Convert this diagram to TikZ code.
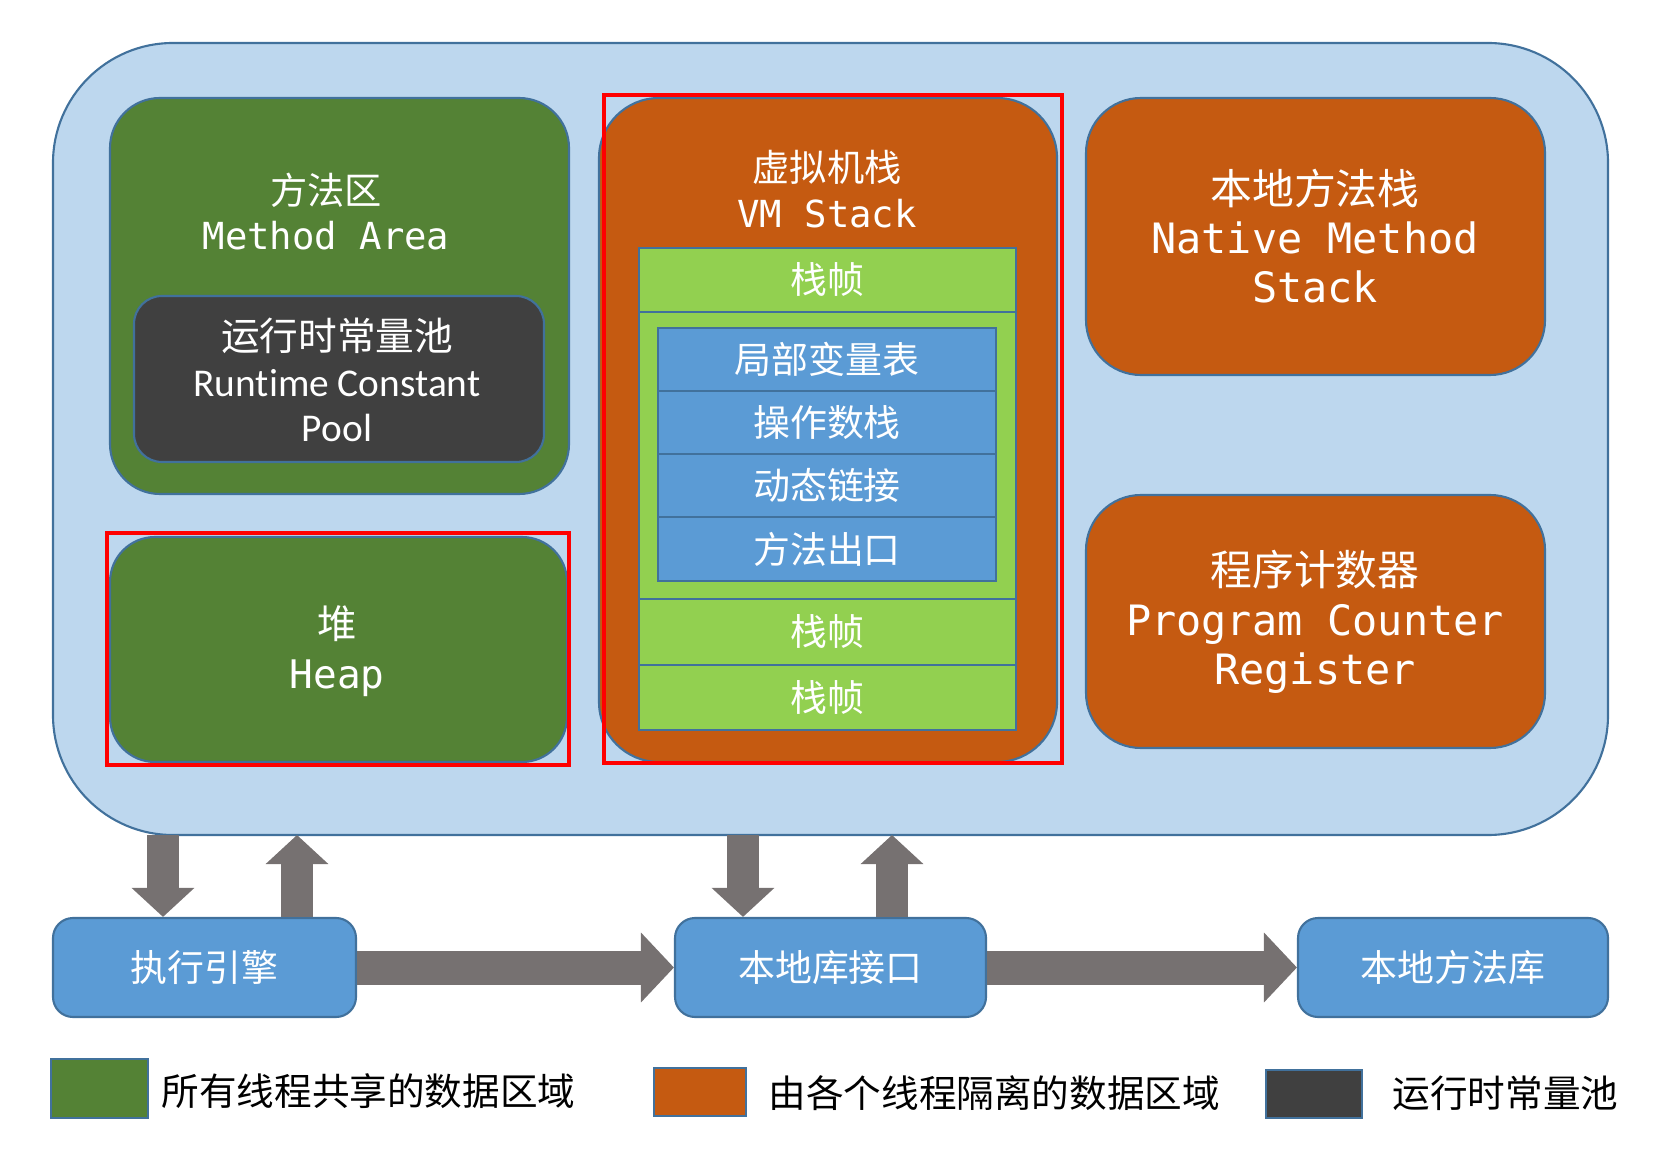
\documentclass[tikz,border=0pt]{standalone}
\usepackage{fontspec}
\setmainfont{Noto Sans CJK SC}
\setmonofont{DejaVu Sans Mono}
\newfontfamily\carlito[Ligatures=NoCommon]{Carlito}
\usepackage{tikz}
\usetikzlibrary{arrows.meta, positioning}
\definecolor{jvmBack}{HTML}{BDD7EE}
\definecolor{jvmEdge}{HTML}{41719C}
\definecolor{sharedGreen}{HTML}{548235}
\definecolor{threadOrange}{HTML}{C55A11}
\definecolor{poolDark}{HTML}{404040}
\definecolor{frameGreen}{HTML}{92D050}
\definecolor{slotBlue}{HTML}{5B9BD5}
\definecolor{flowGray}{HTML}{767171}
\definecolor{markRed}{HTML}{FF0000}

\begin{document}
\begin{tikzpicture}[
  area/.style={draw=jvmEdge, line width=0.6pt, inner sep=0pt},
  shared/.style={area, fill=sharedGreen, rounded corners=0.5cm},
  private/.style={area, fill=threadOrange, rounded corners=0.55cm},
  frame/.style={area, fill=frameGreen, minimum width=3.77cm, text=white,
                font={\fontsize{10.5pt}{12.6pt}\selectfont}},
  slot/.style={area, fill=slotBlue, minimum width=3.38cm, minimum height=0.63cm, text=white,
               font={\fontsize{10.5pt}{12.6pt}\selectfont}},
  engine/.style={area, fill=slotBlue, rounded corners=0.2cm, minimum height=0.99cm, text=white,
                 font={\fontsize{10.5pt}{12.6pt}\selectfont}},
  lbl/.style={align=center, text=white, inner sep=0pt},
  hilite/.style={draw=markRed, line width=1pt, inner sep=0pt},
  swatch/.style={draw=jvmEdge, line width=0.6pt, inner sep=0pt},
  legend/.style={anchor=west, inner sep=0pt, font={\fontsize{10.7pt}{12.8pt}\selectfont}},
  flowV/.style={draw=flowGray, line width=0.32cm, -{Triangle[length=0.29cm, width=0.61cm]}},
  flowH/.style={draw=flowGray, line width=0.34cm, -{Triangle[length=0.33cm, width=0.68cm]}}
]
\useasboundingbox (0,0) rectangle (16.78,-11.70);

% runtime data area
\node[area, fill=jvmBack, rounded corners=1.2cm, minimum width=15.55cm, minimum height=7.92cm] (jvm) at (8.305,-4.39) {};

\node[shared, minimum width=4.59cm, minimum height=3.96cm] (marea) at (3.395,-2.96) {};
\node[lbl, font={\fontsize{10.6pt}{12.8pt}\selectfont}] (mareaT) at (3.26,-2.12) {方法区\\\texttt{Method Area}};
\node[area, fill=poolDark, rounded corners=0.28cm, minimum width=4.10cm, minimum height=1.66cm] (pool) at (3.39,-3.79) {};
\node[lbl, font={\fontsize{11pt}{13pt}\selectfont}] (poolT) at (3.37,-3.80) {运行时常量池\\{\carlito\fontsize{11.2pt}{13pt}\selectfont Runtime Constant}\\{\carlito\fontsize{11.2pt}{13pt}\selectfont Pool}};

\node[shared, rounded corners=0.45cm, minimum width=4.57cm, minimum height=2.25cm] (heap) at (3.385,-6.495) {};
\node[lbl, font={\fontsize{11.2pt}{14.2pt}\selectfont}] (heapT) at (3.37,-6.51) {堆\\\texttt{Heap}};

\node[private, rounded corners=0.6cm, minimum width=4.58cm, minimum height=6.64cm] (vm) at (8.28,-4.30) {};
\node[lbl, font={\fontsize{10.6pt}{13pt}\selectfont}] (vmT) at (8.27,-1.89) {虚拟机栈\\\texttt{VM Stack}};

% stack frames
\node[frame, minimum height=0.64cm] (frame1) at (8.275,-2.80) {栈帧};
\node[frame, minimum height=2.87cm] (frame2) at (8.275,-4.555) {};
\node[frame, minimum height=0.66cm] (frame3) at (8.275,-6.32) {栈帧};
\node[frame, minimum height=0.65cm] (frame4) at (8.275,-6.975) {栈帧};
\node[slot] (locals) at (8.27,-3.595) {局部变量表};
\node[slot] (operand) at (8.27,-4.225) {操作数栈};
\node[slot] (dynlink) at (8.27,-4.855) {动态链接};
\node[slot, minimum height=0.64cm] (retaddr) at (8.27,-5.49) {方法出口};

\node[private, minimum width=4.59cm, minimum height=2.77cm] (native) at (13.155,-2.365) {};
\node[lbl, font={\fontsize{11.9pt}{14pt}\selectfont}] (nativeT) at (13.15,-2.36) {本地方法栈\\\texttt{Native Method}\\\texttt{Stack}};
\node[private, minimum width=4.59cm, minimum height=2.53cm] (pc) at (13.155,-6.215) {};
\node[lbl, font={\fontsize{11.9pt}{14pt}\selectfont}] (pcT) at (13.15,-6.22) {程序计数器\\\texttt{Program Counter}\\\texttt{Register}};

% red marks
\node[hilite, minimum width=4.62cm, minimum height=2.32cm] (heapMark) at (3.38,-6.49) {};
\node[hilite, minimum width=4.58cm, minimum height=6.68cm] (vmMark) at (8.33,-4.29) {};

% engine and native interface
\node[engine, minimum width=3.03cm] (exec) at (2.045,-9.675) {执行引擎};
\node[engine, minimum width=3.11cm] (nlib) at (8.305,-9.675) {本地库接口};
\node[engine, minimum width=3.10cm] (nmeth) at (14.53,-9.675) {本地方法库};

\coordinate (down1) at (1.63,-8.35);
\coordinate (up1) at (2.97,-8.35);
\coordinate (down2) at (7.43,-8.35);
\coordinate (up2) at (8.92,-8.35);
\draw[flowV] (down1) -- (down1 |- exec.north);
\draw[flowV] (up1 |- exec.north) -- (up1);
\draw[flowV] (down2) -- (down2 |- nlib.north);
\draw[flowV] (up2 |- nlib.north) -- (up2);
\draw[flowH] (exec) -- (nlib);
\draw[flowH] (nlib) -- (nmeth);

% legend
\node[swatch, fill=sharedGreen, minimum width=0.97cm, minimum height=0.59cm] (keyShared) at (0.995,-10.885) {};
\node[legend] (keySharedT) at (1.61,-10.91) {所有线程共享的数据区域};
\node[swatch, fill=threadOrange, minimum width=0.92cm, minimum height=0.48cm] (keyPrivate) at (7.00,-10.92) {};
\node[legend] (keyPrivateT) at (7.68,-10.93) {由各个线程隔离的数据区域};
\node[swatch, fill=poolDark, minimum width=0.96cm, minimum height=0.48cm] (keyPool) at (13.14,-10.94) {};
\node[legend] (keyPoolT) at (13.92,-10.93) {运行时常量池};
\end{tikzpicture}
\end{document}
